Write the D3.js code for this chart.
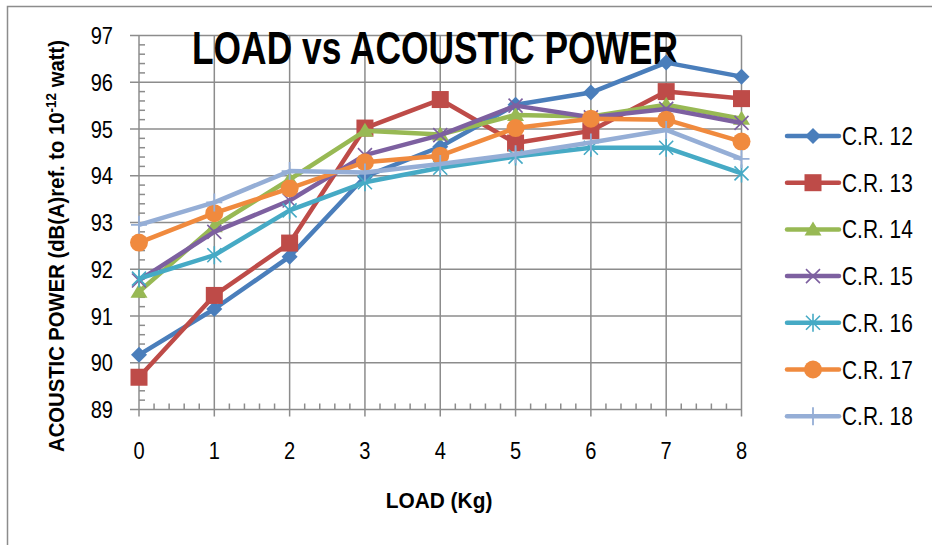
<!DOCTYPE html>
<html>
<head>
<meta charset="utf-8">
<script src="https://cdn.jsdelivr.net/npm/d3@7"></script>
<style>
  html, body { margin: 0; padding: 0; background: #fff; }
  svg { display: block; }
  text { font-family: "Liberation Sans", Arial, sans-serif; }
</style>
</head>
<body>
<svg id="chart" width="932" height="545"></svg>
<script>
// Load steps (kg) on the x axis
const loads = [0, 1, 2, 3, 4, 5, 6, 7, 8];
const yTicks = [89, 90, 91, 92, 93, 94, 95, 96, 97];

// Acoustic power, dB(A) ref. 10^-12 W, one array per compression ratio
const cr12 = [90.17, 91.15, 92.27, 93.98, 94.62, 95.52, 95.78, 96.42, 96.12];
const cr13 = [89.69, 91.44, 92.56, 95.02, 95.63, 94.70, 94.96, 95.80, 95.65];
const cr14 = [91.52, 92.92, 93.92, 94.96, 94.88, 95.30, 95.27, 95.52, 95.22];
const cr15 = [91.76, 92.80, 93.47, 94.44, 94.87, 95.50, 95.25, 95.43, 95.13];
const cr16 = [91.80, 92.30, 93.26, 93.86, 94.17, 94.41, 94.60, 94.60, 94.05];
const cr17 = [92.57, 93.20, 93.73, 94.29, 94.43, 95.02, 95.22, 95.20, 94.73];
const cr18 = [92.95, 93.43, 94.10, 94.07, 94.25, 94.46, 94.71, 94.98, 94.36];

const seriesNames = ["C.R. 12", "C.R. 13", "C.R. 14", "C.R. 15", "C.R. 16", "C.R. 17", "C.R. 18"];
const seriesValues = [cr12, cr13, cr14, cr15, cr16, cr17, cr18];
const seriesColors = ["#4A7EBB", "#BE4B48", "#98B954", "#7D60A0", "#46AAC5", "#F08A3E", "#95AED6"];
const seriesMarkers = ["diamond", "square", "triangle", "x", "star", "circle", "plus"];

const svg = d3.select("#chart");
const plot = { left: 139, right: 741.5, top: 35.5, bottom: 409.5 };

const x = d3.scaleLinear().domain([0, 8]).range([plot.left, plot.right]);
const y = d3.scaleLinear().domain([89, 97]).range([plot.bottom, plot.top]);

const gridColor = "#8C8C8C";
const narrow = 0.82; // horizontal squeeze giving a narrow face

// Text placed at (tx, ty) and squeezed horizontally around its anchor
function narrowText(parent, tx, ty, anchor, size, weight, squeeze) {
  return parent.append("text")
    .attr("transform", `translate(${tx},${ty}) scale(${squeeze || narrow},1)`)
    .attr("text-anchor", anchor)
    .attr("font-size", size)
    .attr("font-weight", weight || "normal")
    .attr("fill", "#000");
}

// Outer chart frame
svg.append("rect")
  .attr("x", 7.5).attr("y", 6.5).attr("width", 940).attr("height", 560)
  .attr("fill", "none").attr("stroke", gridColor).attr("stroke-width", 1.5);

// Horizontal gridlines, extended left as major ticks
svg.append("g").selectAll("line").data(yTicks).join("line")
  .attr("x1", plot.left - 9).attr("x2", plot.right)
  .attr("y1", d => y(d)).attr("y2", d => y(d))
  .attr("stroke", gridColor).attr("stroke-width", 1.5);

// Vertical gridlines, extended below as major ticks
svg.append("g").selectAll("line").data(loads).join("line")
  .attr("x1", d => x(d)).attr("x2", d => x(d))
  .attr("y1", plot.top).attr("y2", plot.bottom + 7)
  .attr("stroke", gridColor).attr("stroke-width", 1.5);

// Minor ticks (0.2 steps) pointing into the plot
const minorY = d3.range(89, 97.001, 0.2).filter(v => Math.abs(v - Math.round(v)) > 1e-6);
svg.append("g").selectAll("line").data(minorY).join("line")
  .attr("x1", plot.left).attr("x2", plot.left + 6)
  .attr("y1", d => y(d)).attr("y2", d => y(d))
  .attr("stroke", gridColor).attr("stroke-width", 1.5);
const minorX = d3.range(0, 8.001, 0.2).filter(v => Math.abs(v - Math.round(v)) > 1e-6);
svg.append("g").selectAll("line").data(minorX).join("line")
  .attr("x1", d => x(d)).attr("x2", d => x(d))
  .attr("y1", plot.bottom).attr("y2", plot.bottom - 6)
  .attr("stroke", gridColor).attr("stroke-width", 1.5);

// Tick labels
const yLab = svg.append("g");
yTicks.forEach(t => narrowText(yLab, 113, y(t) + 8.5, "end", 24.5).text(t));
const xLab = svg.append("g");
loads.forEach(t => narrowText(xLab, x(t), 458.5, "middle", 24.5).text(t));

// Axis titles
narrowText(svg, 439, 508, "middle", 22, "bold", 0.95).text("LOAD (Kg)");

const yTitle = svg.append("text")
  .attr("transform", "translate(64,246) rotate(-90) scale(0.9,1)")
  .attr("text-anchor", "middle").attr("font-size", 22.5).attr("font-weight", "bold");
yTitle.append("tspan").text("ACOUSTIC POWER (dB(A)ref. to 10");
yTitle.append("tspan").attr("dy", -8).attr("font-size", 15).text("-12");
yTitle.append("tspan").attr("dy", 8).text(" watt)");

// Chart title
svg.append("text")
  .attr("x", 435).attr("y", 63.5)
  .attr("text-anchor", "middle").attr("font-size", 46).attr("font-weight", "bold")
  .attr("textLength", 486).attr("lengthAdjust", "spacingAndGlyphs")
  .text("LOAD vs ACOUSTIC POWER");

// Marker drawing
function drawMarker(g, type, color) {
  switch (type) {
    case "diamond":
      g.append("path").attr("d", "M0,-8L8,0L0,8L-8,0Z").attr("fill", color);
      break;
    case "square":
      g.append("rect").attr("x", -8.5).attr("y", -8.5).attr("width", 17).attr("height", 17).attr("fill", color);
      break;
    case "triangle":
      g.append("path").attr("d", "M0,-8L8.5,6L-8.5,6Z").attr("fill", color);
      break;
    case "x":
      g.append("path").attr("d", "M-7,-7L7,7M-7,7L7,-7").attr("stroke", color).attr("stroke-width", 1.6).attr("fill", "none");
      break;
    case "star":
      g.append("path").attr("d", "M-7,-7L7,7M-7,7L7,-7M0,-9L0,9").attr("stroke", color).attr("stroke-width", 1.6).attr("fill", "none");
      break;
    case "circle":
      g.append("circle").attr("r", 9).attr("fill", color);
      break;
    case "plus":
      g.append("path").attr("d", "M-8,0L8,0M0,-9L0,9").attr("stroke", color).attr("stroke-width", 1.8).attr("fill", "none");
      break;
  }
}

const line = d3.line().x((d, i) => x(loads[i])).y(d => y(d));

seriesValues.forEach((vals, s) => {
  const g = svg.append("g");
  g.append("path").datum(vals)
    .attr("d", line).attr("fill", "none")
    .attr("stroke", seriesColors[s]).attr("stroke-width", 4.5)
    .attr("stroke-linejoin", "round");
  vals.forEach((v, i) => {
    const m = g.append("g").attr("transform", `translate(${x(loads[i])},${y(v)})`);
    drawMarker(m, seriesMarkers[s], seriesColors[s]);
  });
});

// Legend
const legend = svg.append("g");
seriesNames.forEach((name, s) => {
  const ly = 136 + s * 46.7;
  const item = legend.append("g").attr("transform", `translate(0,${ly})`);
  item.append("line").attr("x1", 787).attr("x2", 839).attr("y1", 0).attr("y2", 0)
    .attr("stroke", seriesColors[s]).attr("stroke-width", 4.5).attr("stroke-linecap", "round");
  const m = item.append("g").attr("transform", "translate(813,0)");
  drawMarker(m, seriesMarkers[s], seriesColors[s]);
  narrowText(item, 842, 9, "start", 25.5).text(name);
});
</script>
</body>
</html>
